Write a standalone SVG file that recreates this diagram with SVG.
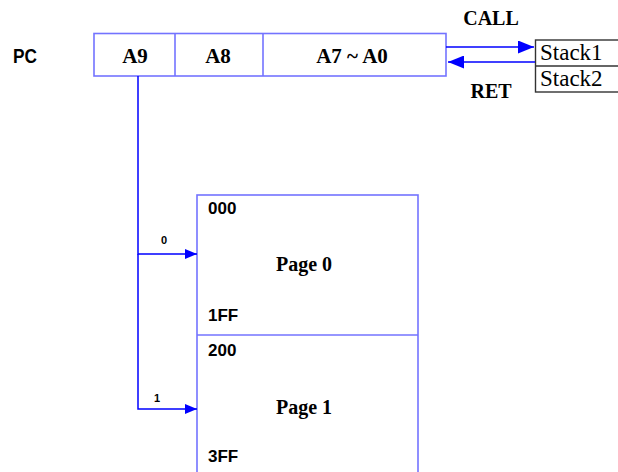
<svg xmlns="http://www.w3.org/2000/svg" width="618" height="472" viewBox="0 0 618 472">
<defs>
<style>
.reg{fill:#fff;stroke:#7373ff;stroke-width:1.6}
.stk{fill:#fff;stroke:#333;stroke-width:1.4}
.wire{fill:none;stroke:#0000ff;stroke-width:1.5}
.ser{font-family:"Liberation Serif","Times New Roman",serif;font-weight:bold;fill:#000}
.sern{font-family:"Liberation Serif","Times New Roman",serif;fill:#000}
.san{font-family:"Liberation Sans",Arial,sans-serif;font-weight:bold;fill:#000}
.addr{font-size:17px}
</style>
<marker id="ah" viewBox="0 0 12 10" refX="12" refY="5" markerWidth="12" markerHeight="10" markerUnits="userSpaceOnUse" orient="auto">
<path d="M0,0L12,5L0,10z" fill="#0000ff"/>
</marker>
<marker id="ahb" viewBox="0 0 16 13" refX="16" refY="6.5" markerWidth="16" markerHeight="13" markerUnits="userSpaceOnUse" orient="auto">
<path d="M0,0L16,6.5L0,13z" fill="#0000ff"/>
</marker>
</defs>
<rect width="618" height="472" fill="#fff"/>
<g id="pc-label"><text class="san" x="13" y="63" font-size="21" textLength="24" lengthAdjust="spacingAndGlyphs">PC</text></g>
<g id="pc-register">
<rect class="reg" x="94" y="33.5" width="352" height="42.5"/>
<line class="reg" x1="175" y1="33.5" x2="175" y2="76"/>
<line class="reg" x1="263" y1="33.5" x2="263" y2="76"/>
<text class="ser" x="135" y="63" font-size="21" text-anchor="middle">A9</text>
<text class="ser" x="218" y="63" font-size="21" text-anchor="middle">A8</text>
<text class="ser" x="352" y="63" font-size="21" text-anchor="middle">A7 ~ A0</text>
</g>
<g id="stack">
<rect class="stk" x="535.5" y="40" width="90" height="52"/>
<line class="stk" x1="535.5" y1="66" x2="625" y2="66"/>
<text class="sern" x="540" y="59.5" font-size="23">Stack1</text>
<text class="sern" x="540" y="86" font-size="23">Stack2</text>
</g>
<g id="pages">
<rect class="reg" x="197" y="195" width="221" height="290"/>
<line class="reg" x1="197" y1="335" x2="418" y2="335"/>
<text class="san addr" x="208" y="214">000</text>
<text class="ser" x="304" y="271" font-size="20" text-anchor="middle">Page 0</text>
<text class="san addr" x="208" y="321">1FF</text>
<text class="san addr" x="208" y="356">200</text>
<text class="ser" x="304" y="414" font-size="20" text-anchor="middle">Page 1</text>
<text class="san addr" x="208" y="462">3FF</text>
</g>
<g id="connectors">
<line class="wire" x1="446" y1="47" x2="534" y2="47" stroke-width="2" marker-end="url(#ahb)"/>
<line class="wire" x1="535" y1="62" x2="448" y2="62" stroke-width="2" marker-end="url(#ahb)"/>
<polyline class="wire" points="138,76 138,254 197,254" marker-end="url(#ah)"/>
<polyline class="wire" points="138,254 138,409 197,409" marker-end="url(#ah)"/>
<text class="ser" x="491" y="25" font-size="20" text-anchor="middle">CALL</text>
<text class="ser" x="491" y="98" font-size="20" text-anchor="middle">RET</text>
<text class="san" x="164" y="244" font-size="11" text-anchor="middle">0</text>
<text class="san" x="157" y="402" font-size="11" text-anchor="middle">1</text>
</g>
</svg>
